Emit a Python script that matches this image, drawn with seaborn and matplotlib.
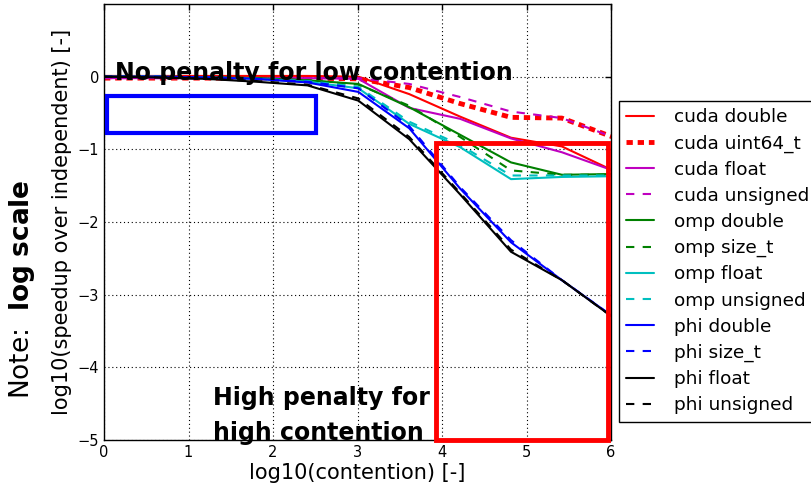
import numpy as np
import matplotlib.pyplot as plt
import seaborn as sns
from matplotlib.patches import Rectangle

# contention levels (powers of 4), plotted as log10
contention = [1, 4, 16, 64, 256, 1024, 4096, 16384, 65536, 262144, 1048576]

# log10(speedup over independent)
cuda_double = [0.01, 0.01, 0.01, 0.01, 0.01, 0.0, -0.24, -0.55, -0.84, -0.96, -1.29]
cuda_uint64 = [-0.02, -0.02, -0.02, -0.02, -0.02, -0.03, -0.15, -0.37, -0.56, -0.57, -0.83]
cuda_float = [-0.02, -0.02, -0.02, -0.02, -0.02, -0.03, -0.43, -0.58, -0.85, -1.04, -1.29]
cuda_unsigned = [-0.02, -0.02, -0.02, -0.02, -0.02, -0.02, -0.10, -0.28, -0.48, -0.57, -0.83]
omp_double = [0.0, 0.0, -0.01, -0.02, -0.05, -0.10, -0.42, -0.80, -1.18, -1.35, -1.34]
omp_size_t = [0.0, 0.0, -0.01, -0.02, -0.05, -0.11, -0.40, -0.83, -1.29, -1.35, -1.35]
omp_float = [0.0, 0.0, -0.01, -0.03, -0.07, -0.16, -0.65, -0.97, -1.41, -1.38, -1.37]
omp_unsigned = [0.0, 0.0, -0.01, -0.03, -0.06, -0.14, -0.62, -0.94, -1.36, -1.36, -1.36]
phi_double = [0.0, 0.0, -0.01, -0.03, -0.08, -0.21, -0.71, -1.54, -2.28, -2.80, -3.30]
phi_size_t = [0.0, 0.0, -0.01, -0.03, -0.07, -0.16, -0.68, -1.52, -2.25, -2.80, -3.30]
phi_float = [0.0, -0.01, -0.03, -0.07, -0.12, -0.33, -0.86, -1.62, -2.41, -2.80, -3.31]
phi_unsigned = [0.0, -0.01, -0.03, -0.06, -0.11, -0.30, -0.83, -1.60, -2.38, -2.80, -3.31]

labels = ['cuda double', 'cuda uint64_t', 'cuda float', 'cuda unsigned',
          'omp double', 'omp size_t', 'omp float', 'omp unsigned',
          'phi double', 'phi size_t', 'phi float', 'phi unsigned']
series = [cuda_double, cuda_uint64, cuda_float, cuda_unsigned,
          omp_double, omp_size_t, omp_float, omp_unsigned,
          phi_double, phi_size_t, phi_float, phi_unsigned]

sns.set_theme(style='white', color_codes=False)
plt.rcParams['font.family'] = ['DejaVu Sans']
plt.rcParams['text.color'] = 'black'
plt.rcParams['axes.labelcolor'] = 'black'

red, mag, grn, cyan, blue, blk = ('#ff0000', '#bf00bf', '#008000',
                                  '#00bfbf', '#0000ff', '#000000')
colors = [red, red, mag, mag, grn, grn, cyan, cyan, blue, blue, blk, blk]
dashed = (0, (4, 4))
styles = ['-', (0, (1.3, 1.0)), '-', dashed, '-', dashed, '-', dashed,
          '-', dashed, '-', dashed]
widths = [1.5, 3.5, 1.5, 1.5, 1.5, 1.5, 1.5, 1.5, 1.5, 1.5, 1.5, 1.5]

x = np.log10(contention)

fig = plt.figure(figsize=(8.12, 4.86), dpi=100)
ax = fig.add_axes([104 / 812, 46 / 486, 507 / 812, 436 / 486])

for lab, vals, c, ls, lw in zip(labels, series, colors, styles, widths):
    sns.lineplot(x=x, y=vals, ax=ax, color=c, linestyle=ls, linewidth=lw,
                 label=lab)

# annotation boxes
ax.add_patch(Rectangle((0.04, -0.78), 2.47, 0.52, fill=False,
                       edgecolor=blue, linewidth=3, zorder=5))
ax.add_patch(Rectangle((3.93, -5.0), 2.03, 4.09, fill=False,
                       edgecolor=red, linewidth=3.5, zorder=5,
                       clip_on=False))

ax.text(0.13, -0.05, 'No penalty for low contention', fontsize=17,
        fontweight='bold', va='baseline', zorder=6)
ax.text(1.29, -4.52, 'High penalty for', fontsize=17, fontweight='bold',
        va='baseline', zorder=6)
ax.text(1.29, -5.0, 'high contention', fontsize=17, fontweight='bold',
        va='baseline', zorder=6)

ax.set_xlim(0, 6)
ax.set_ylim(-5, 1)
ax.set_yticks(range(-5, 1))
ax.set_xticks(range(0, 7))
ax.grid(True, color='k', linestyle=(0, (1, 2.5)), linewidth=0.8)
ax.tick_params(direction='in', top=True, right=True, length=4, width=1,
               labelsize=10.5, colors='k')
for sp in ax.spines.values():
    sp.set_color('k')
    sp.set_linewidth(1)

ax.set_xlabel('log10(contention) [-]', fontsize=15, labelpad=2)
ax.set_ylabel('log10(speedup over independent) [-]', fontsize=15, labelpad=4)

fig.text(0.027, 0.405, r'Note:  $\mathbf{log\ scale}$', fontsize=19,
         rotation=90, ha='center', va='center')

leg = ax.legend(loc='upper left', bbox_to_anchor=(1.0158, 0.778),
                borderaxespad=0, fontsize=13.3, handlelength=1.5,
                handletextpad=1.08, labelspacing=0.44, borderpad=0.4,
                fancybox=False, framealpha=1, edgecolor='k')
leg.get_frame().set_linewidth(1)

fig.savefig('out.png', dpi=100)
